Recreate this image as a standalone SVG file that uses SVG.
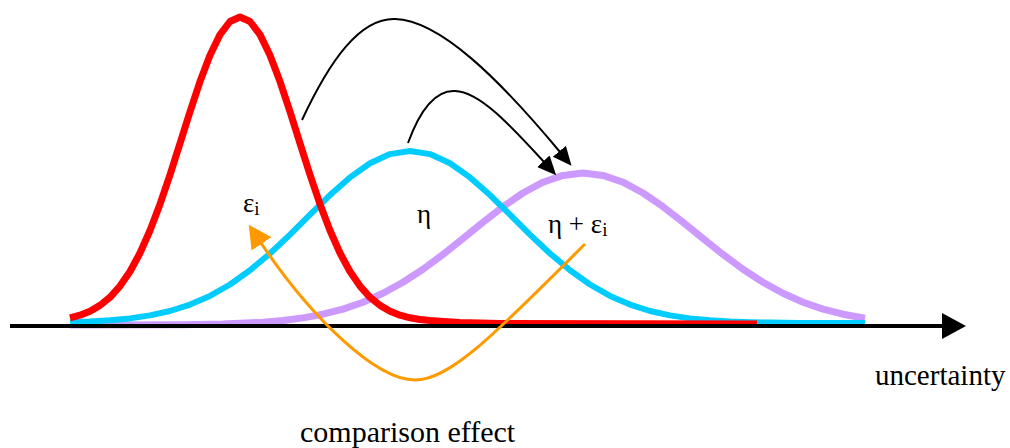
<svg xmlns="http://www.w3.org/2000/svg" width="1010" height="448" viewBox="0 0 1010 448">
<style>
.curve{fill:none;stroke-linejoin:round;stroke-linecap:butt}
.lbl{font-family:"Liberation Serif","Times New Roman",serif;fill:#000}
.conn{fill:none;stroke:#000;stroke-width:2}
</style>
<defs>
<marker id="ah" markerUnits="userSpaceOnUse" markerWidth="20" markerHeight="18" refX="1" refY="8.5" orient="auto">
<path d="M0,0 L19,8.5 L0,17 z" fill="#000"/>
</marker>
<marker id="ahO" markerUnits="userSpaceOnUse" markerWidth="25" markerHeight="25" refX="1" refY="12" orient="auto">
<path d="M0,0 L23,12 L0,24 z" fill="#FF9900"/>
</marker>
</defs>
<rect width="1010" height="448" fill="#fff"/>
<g id="eta-eps-curve">
<polyline class="curve" stroke="#CC99FF" stroke-width="7" points="70,325 103,325 183,324.7 223,324 263,322.2 283,320.5 303,317.9 323,314.2 343,309.1 363,302.2 383,293.3 403,282.3 423,269.2 443,254.4 463,238.5 483,222.2 503,206.7 523,193 543,182.2 563,175.4 583,173 603,175.4 623,182.2 643,193 663,206.7 683,222.2 703,238.5 723,254.4 743,269.2 763,282.3 783,293.3 803,302.2 823,309.1 843,314.2 865,318.2"/>
</g>
<g id="eta-curve">
<polyline class="curve" stroke="#00CCFF" stroke-width="6" points="70,322.2 90,321.5 110,320.3 130,318.4 150,315.4 170,311 190,304.6 210,295.9 230,284.5 250,270.3 270,253.5 290,234.6 310,214.7 330,195.1 350,177.4 370,163.3 390,154.1 410,151 430,154.1 450,163.3 470,177.4 490,195.1 510,214.7 530,234.6 550,253.5 570,270.3 590,284.5 610,295.9 630,304.6 650,311 670,315.4 690,318.4 710,320.3 730,321.5 750,322.2 770,322.6 800,323 865,323"/>
</g>
<g id="eps-curve">
<polyline class="curve" stroke="#FF0000" stroke-width="7" points="70,317.8 80,315.2 90,311.2 100,305.4 110,297.3 120,286.1 130,271.5 140,253 150,230.5 160,204.2 170,174.8 180,143.4 190,111.7 200,81.6 210,55.2 220,34.6 230,21.5 240,17 250,21.5 260,34.6 270,55.2 280,81.6 290,111.7 300,143.4 310,174.8 320,204.2 330,230.5 340,253 350,271.5 360,286.1 370,297.3 380,305.4 390,311.2 400,315.2 410,317.8 420,319.5 430,320.6 440,321.2 460,322.5 500,323.5 757,324"/>
</g>
<g id="axis">
<line x1="10" y1="326" x2="944" y2="326" stroke="#000" stroke-width="4"/>
<polygon points="942,313 966,326 942,339" fill="#000"/>
</g>
<g id="connectors">
<path class="conn" d="M302,120 C330,60 360,18 395,19 C440,20 500,80 560,152" marker-end="url(#ah)"/>
<path class="conn" d="M408,143 C420,110 435,90 455,91 C480,92 510,125 544,162" marker-end="url(#ah)"/>
<path fill="none" stroke="#FF9900" stroke-width="3" d="M585,244 C495,334 450,380 415,380 C375,380 310,316 261,243" marker-end="url(#ahO)"/>
</g>
<g id="labels">
<text class="lbl" x="243" y="212" font-size="27">ε<tspan font-size="19" dy="3">i</tspan></text>
<text class="lbl" x="417" y="223" font-size="27">η</text>
<text class="lbl" x="548" y="233" font-size="27">η + ε<tspan font-size="19" dy="3">i</tspan></text>
<text class="lbl" x="875" y="385" font-size="29">uncertainty</text>
<text class="lbl" x="300" y="442" font-size="30">comparison effect</text>
</g>
</svg>
